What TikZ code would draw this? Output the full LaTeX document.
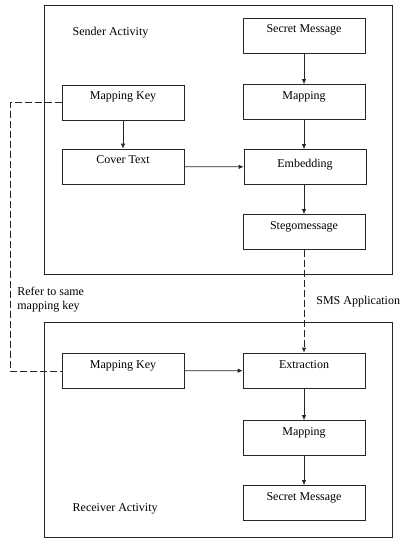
\documentclass[tikz,border=0pt]{standalone}
\usepackage{fontspec}
\setmainfont{Liberation Serif}
\usetikzlibrary{arrows.meta}

\begin{document}
\begin{tikzpicture}[x=1pt, y=-1pt, font=\fontsize{12}{14}\selectfont, line width=0.7pt,
  blk/.style={draw=black!85, minimum width=122pt, inner sep=0pt, text height=15pt, text depth=20pt},
  flow/.style={draw=black!85, -{Latex[length=5pt,width=4.5pt]}},
  link/.style={draw=black!85, dash pattern=on 7pt off 3pt}]
  \useasboundingbox (0,0) rectangle (401,540);

  % activity frames
  \draw[black!85] (44,5) rectangle (392,274);
  \draw[black!85] (44,322) rectangle (392,537);
  \node[anchor=west] (sndlbl) at (69,33) {Sender Activity};
  \node[anchor=west] (rcvlbl) at (69,509) {Receiver Activity};

  % sender side
  \node[blk] (secS) at (304,35.5) {Secret Message};
  \node[blk] (mapS) at (304,102) {Mapping};
  \node[blk, text height=18pt, text depth=17pt] (embS) at (305,167) {Embedding};
  \node[blk] (stegS) at (304,232) {Stegomessage};
  \node[blk] (keyS) at (123,102.5) {Mapping Key};
  \node[blk] (covS) at (123,166.5) {Cover Text};

  % receiver side
  \node[blk] (extR) at (304,370.5) {Extraction};
  \node[blk] (mapR) at (304,438) {Mapping};
  \node[blk] (secR) at (304,503) {Secret Message};
  \node[blk] (keyR) at (123,371) {Mapping Key};

  % arrows
  \draw[flow] (secS) -- (mapS);
  \draw[flow] (mapS) -- (embS.north -| mapS);
  \draw[flow] (keyS) -- (covS);
  \draw[flow] (covS) -- (embS);
  \draw[flow] (embS.south -| stegS) -- (stegS);
  \draw[flow] (keyR) -- (extR);
  \draw[flow] (extR) -- (mapR);
  \draw[flow] (mapR) -- (secR);

  % shared key and sms channel
  \coordinate (turn) at (10,0);
  \draw[link] (keyS.west) -- (keyS.west -| turn) -- (turn |- keyR.west) -- (keyR.west);
  \draw[link, -{Latex[length=5pt,width=4.5pt]}] (stegS) -- (extR);

  \node[anchor=north west, align=left, inner sep=0pt] (keynote) at (17,287) {Refer to same\\mapping key};
  \node[anchor=west, inner sep=0pt] (smsnote) at (316,302) {SMS Application};
\end{tikzpicture}
\end{document}
